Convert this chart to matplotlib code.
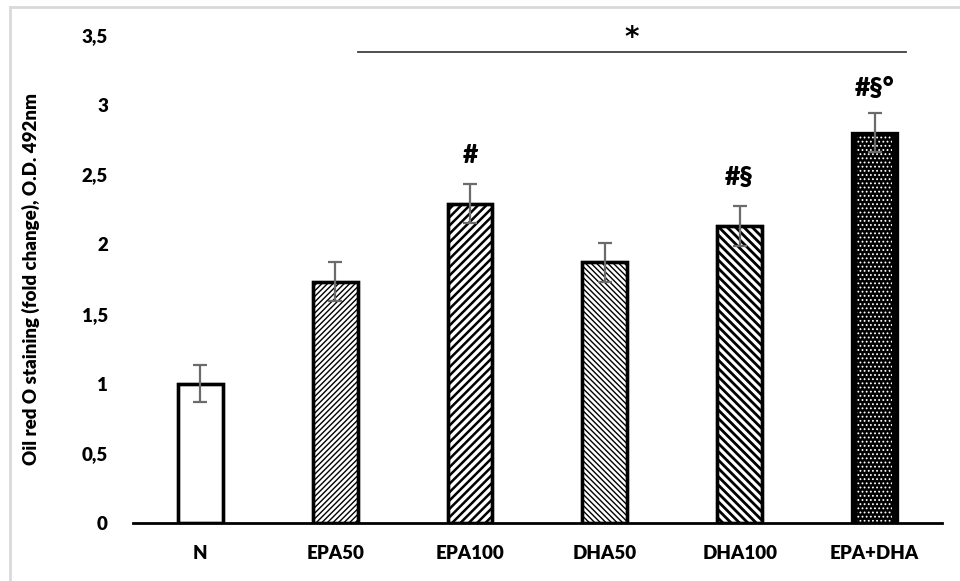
import matplotlib
matplotlib.use("Agg")
import matplotlib.pyplot as plt
from matplotlib.lines import Line2D

plt.rcParams['font.family'] = ['Lato', 'DejaVu Sans']
plt.rcParams['font.weight'] = 'bold'
plt.rcParams['hatch.linewidth'] = 1.0

# data
groups = ['N', 'EPA50', 'EPA100', 'DHA50', 'DHA100', 'EPA+DHA']
values = [1.00, 1.73, 2.29, 1.87, 2.13, 2.80]
errors = [0.135, 0.14, 0.14, 0.14, 0.14, 0.14]
marks = ['', '', '#', '', '#§', '#§°']
mark_y = [0, 0, 2.64, 0, 2.48, 3.12]
hatches = [None, '//////', '////', '\\\\\\\\\\\\', '\\\\\\\\', None]
hatch_lw = [1.0, 1.0, 1.8, 1.0, 2.0, 1.0]
yticks = [0, 0.5, 1, 1.5, 2, 2.5, 3, 3.5]
ytick_labels = ['0', '0,5', '1', '1,5', '2', '2,5', '3', '3,5']

fig = plt.figure(figsize=(9.6, 5.81), dpi=100)
ax = fig.add_axes([0.1385, 0.0998, 0.8427, 0.840])

x = list(range(len(groups)))
w = 0.333
for i, (v, h) in enumerate(zip(values, hatches)):
    if groups[i] == 'EPA+DHA':
        # dark bar with white dotted columns
        ax.bar(i, v, w, color='black', zorder=2)
        dots = ax.bar(i, v, w * 0.8, facecolor='none', edgecolor='white',
                      hatch='....', linewidth=0, zorder=3)
        for p in dots:
            if hasattr(p, 'set_hatch_linewidth'):
                p.set_hatch_linewidth(0.8)
        ax.bar(i, v, w, facecolor='none', edgecolor='black', linewidth=2.4, zorder=4)
    else:
        b = ax.bar(i, v, w, facecolor='white', edgecolor='black', hatch=h,
                   linewidth=2.4, zorder=2)
        for p in b:
            if hasattr(p, 'set_hatch_linewidth'):
                p.set_hatch_linewidth(hatch_lw[i])
        ax.bar(i, v, w, facecolor='none', edgecolor='black', linewidth=2.4, zorder=4)

ax.errorbar(x, values, yerr=errors, fmt='none', ecolor='#6b6b6b',
            elinewidth=1.6, capsize=5, capthick=1.6, zorder=5)

for i, m in enumerate(marks):
    if m:
        ax.text(i, mark_y[i], m, ha='center', va='center',
                fontsize=19, fontweight='heavy')

# significance bar
ax.plot([1.17, 5.23], [3.38, 3.38], color='#404040', lw=1.3, clip_on=False)
ax.text(3.2, 3.48, '*', ha='center', va='center', fontsize=20,
        fontweight='bold', family='DejaVu Sans', clip_on=False)

ax.set_xlim(-0.5, 5.5)
ax.set_ylim(0, 3.5)
ax.set_xticks(x)
ax.set_xticklabels(groups, fontsize=13.5, fontweight='heavy')
ax.set_yticks(yticks)
ax.set_yticklabels(ytick_labels, fontsize=13.5, fontweight='heavy')
ax.tick_params(length=0, pad=16, axis='x')
ax.tick_params(length=0, pad=18, axis='y')
for s in ['top', 'right', 'left']:
    ax.spines[s].set_visible(False)
ax.spines['bottom'].set_linewidth(2)
ax.set_ylabel('Oil red O staining (fold change), O.D. 492nm', fontsize=13.5,
              fontweight='heavy', labelpad=30)

# faint frame edges of the original screenshot
fig.add_artist(Line2D([0.0105, 1], [0.988, 0.988], color='#d9d9d9', lw=2))
fig.add_artist(Line2D([0.0105, 0.0105], [0, 0.988], color='#d9d9d9', lw=2))

fig.savefig('out.png', dpi=100)
